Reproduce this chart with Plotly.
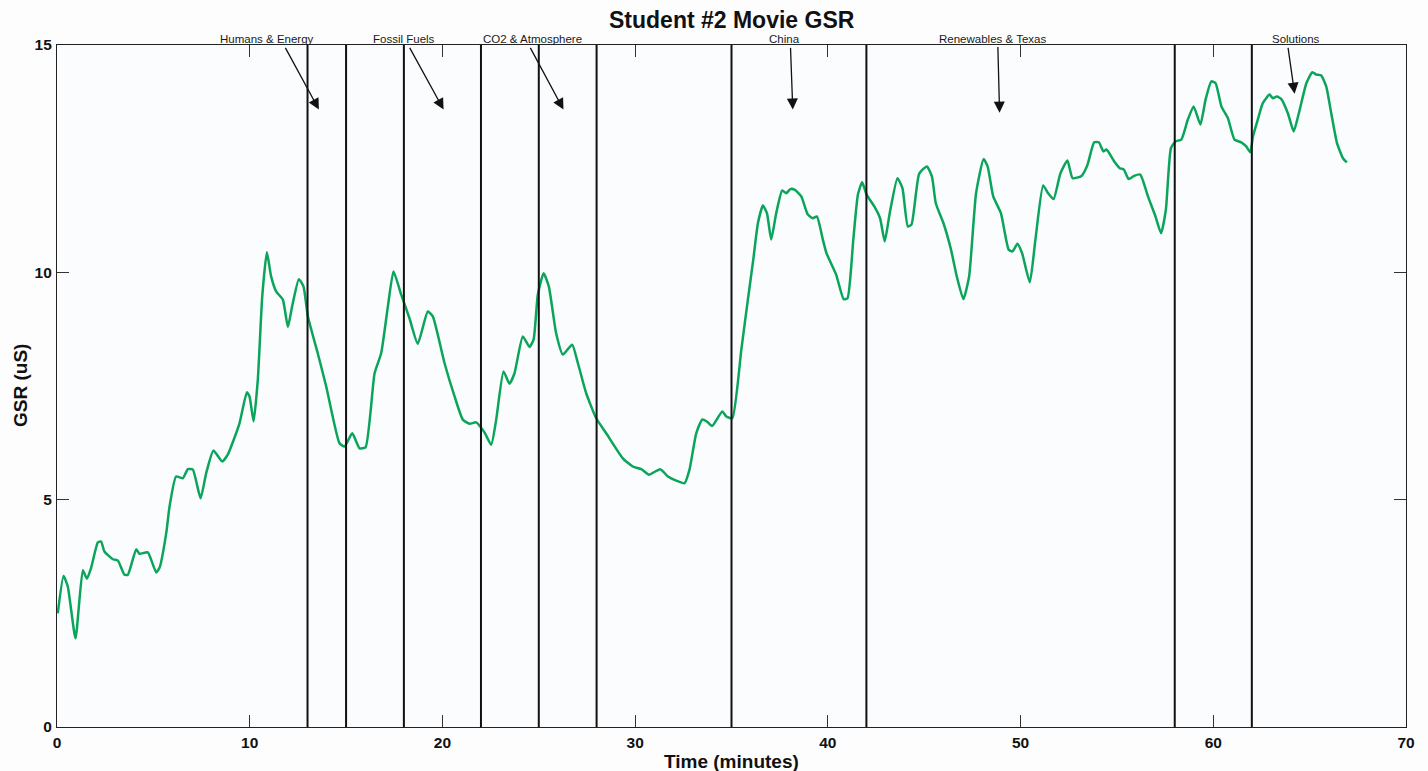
import plotly.graph_objects as go

# GSR trace (time in minutes, conductance in microsiemens)
time_min = [
    0.04, 0.34, 0.56, 0.96, 1.34, 1.55, 1.77, 2.12, 2.29, 2.46, 2.90, 3.16, 3.50, 3.68,
    4.11, 4.28, 4.71, 5.15, 5.32, 5.67, 5.84, 6.18, 6.53, 6.79, 7.05, 7.45, 7.74, 8.12,
    8.57, 8.86, 9.47, 9.85, 9.99, 10.20, 10.42, 10.65, 10.89, 11.11, 11.37, 11.72, 11.98,
    12.20, 12.55, 12.79, 13.02, 13.53, 13.97, 14.66, 14.92, 15.32, 15.70, 16.01, 16.48,
    16.82, 17.17, 17.46, 17.86, 18.29, 18.72, 19.24, 19.50, 20.11, 20.63, 21.06, 21.41,
    21.75, 22.18, 22.53, 22.79, 23.17, 23.48, 23.74, 24.17, 24.52, 24.73, 24.95, 25.25,
    25.52, 25.90, 26.25, 26.73, 27.03, 27.46, 27.98, 28.50, 29.36, 29.88, 30.32, 30.71,
    31.30, 31.70, 32.13, 32.56, 32.82, 33.17, 33.48, 33.72, 34.00, 34.52, 34.73, 35.04,
    35.51, 35.85, 36.13, 36.37, 36.63, 36.84, 37.06, 37.32, 37.63, 37.84, 38.05, 38.27,
    38.62, 38.96, 39.22, 39.43, 39.74, 39.93, 40.43, 40.82, 41.02, 41.32, 41.56, 41.78,
    42.01, 42.41, 42.71, 42.95, 43.21, 43.61, 43.87, 44.15, 44.34, 44.74, 45.14, 45.40,
    45.60, 46.00, 46.39, 46.69, 47.03, 47.33, 47.69, 48.08, 48.29, 48.58, 48.98, 49.38,
    49.58, 49.84, 50.08, 50.48, 50.77, 51.17, 51.43, 51.71, 52.07, 52.43, 52.70, 53.16,
    53.46, 53.82, 54.06, 54.30, 54.46, 54.86, 55.15, 55.36, 55.61, 55.89, 56.21, 56.61,
    57.00, 57.29, 57.54, 57.80, 58.04, 58.34, 58.68, 58.98, 59.33, 59.60, 59.90, 60.12,
    60.42, 60.76, 61.10, 61.45, 61.71, 61.92, 62.06, 62.31, 62.57, 62.92, 63.09, 63.30,
    63.53, 63.87, 64.17, 64.44, 64.83, 65.14, 65.34, 65.60, 65.86, 66.12, 66.42, 66.73,
    66.93,
]
gsr_us = [
    2.50, 3.32, 3.09, 1.95, 3.45, 3.26, 3.50, 4.06, 4.08, 3.86, 3.69, 3.66, 3.35, 3.35,
    3.91, 3.81, 3.84, 3.40, 3.50, 4.27, 4.85, 5.51, 5.47, 5.67, 5.66, 5.03, 5.58, 6.08,
    5.84, 5.99, 6.68, 7.36, 7.27, 6.72, 7.64, 9.47, 10.44, 9.91, 9.58, 9.40, 8.80,
    9.25, 9.85, 9.69, 9.03, 8.22, 7.49, 6.24, 6.17, 6.46, 6.13, 6.15, 7.78,
    8.22, 9.25, 10.02, 9.51, 8.99, 8.43, 9.14, 9.03, 8.00, 7.27, 6.76, 6.67,
    6.70, 6.48, 6.21, 6.76, 7.82, 7.55, 7.78, 8.59, 8.36, 8.52, 9.51, 9.98,
    9.69, 8.66, 8.19, 8.41, 8.00, 7.34, 6.79, 6.46, 5.91, 5.73, 5.67, 5.55,
    5.67, 5.51, 5.42, 5.36, 5.66, 6.46, 6.76, 6.72, 6.62, 6.94, 6.83, 6.79,
    8.30, 9.40, 10.28, 11.08, 11.47, 11.30, 10.72, 11.30, 11.80, 11.74, 11.83, 11.82,
    11.67, 11.27, 11.19, 11.23, 10.72, 10.42, 9.95, 9.41, 9.43, 10.72, 11.71, 11.98,
    11.71, 11.45, 11.19, 10.68, 11.30, 12.07, 11.85, 11.01, 11.05, 12.17, 12.33, 12.11,
    11.52, 11.08, 10.50, 9.91, 9.41, 9.91, 11.74, 12.49, 12.33, 11.67, 11.30, 10.50,
    10.46, 10.63, 10.42, 9.78, 10.72, 11.91, 11.74, 11.61, 12.18, 12.46, 12.07, 12.12,
    12.35, 12.86, 12.86, 12.66, 12.70, 12.44, 12.29, 12.26, 12.05, 12.12, 12.15, 11.67,
    11.23, 10.86, 11.38, 12.73, 12.88, 12.92, 13.36, 13.65, 13.25, 13.80, 14.20, 14.16,
    13.65, 13.39, 12.92, 12.86, 12.77, 12.64, 12.99, 13.36, 13.72, 13.91, 13.83, 13.87,
    13.81, 13.50, 13.10, 13.50, 14.16, 14.40, 14.35, 14.33, 14.09, 13.50, 12.84, 12.51,
    12.42,
]

# Segment boundaries of the movie (minutes)
boundaries = [13, 15, 18, 22, 25, 28, 35, 42, 58, 62]

# Topic labels: label centre, arrow tail and arrow head (minutes, uS)
topics = ["Humans & Energy", "Fossil Fuels", "CO2 & Atmosphere", "China",
          "Renewables & Texas", "Solutions"]
topic_label_x = [10.9, 18.03, 24.68, 37.75, 48.53, 64.27]
arrow_tail_x = [11.81, 18.26, 24.52, 38.06, 48.82, 63.87]
arrow_tail_y = [14.97, 14.97, 14.97, 14.97, 14.99, 14.97]
arrow_head_x = [13.59, 20.06, 26.28, 38.18, 48.91, 64.22]
arrow_head_y = [13.58, 13.58, 13.58, 13.58, 13.51, 13.93]

x_ticks = [0, 10, 20, 30, 40, 50, 60, 70]
y_ticks = [0, 5, 10, 15]

FONT = "Liberation Sans, Arial, sans-serif"

fig = go.Figure()
fig.add_trace(go.Scatter(
    x=time_min, y=gsr_us, mode="lines",
    line=dict(color="#0aa45a", width=2.5, shape="spline", smoothing=0.5),
    hoverinfo="x+y", showlegend=False,
))

for b in boundaries:
    fig.add_shape(type="line", xref="x", yref="y", x0=b, x1=b, y0=0, y1=15,
                  line=dict(color="#111111", width=2))

annotations = []
for name, lx in zip(topics, topic_label_x):
    annotations.append(dict(
        x=lx, y=1, xref="x", yref="paper", yshift=6, text=name, showarrow=False,
        font=dict(family=FONT, size=11.5, color="#1a1a1a"),
        xanchor="center", yanchor="middle",
    ))
for tx, ty, hx, hy in zip(arrow_tail_x, arrow_tail_y, arrow_head_x, arrow_head_y):
    annotations.append(dict(
        x=hx, y=hy, ax=tx, ay=ty, xref="x", yref="y", axref="x", ayref="y",
        text="", showarrow=True, arrowhead=2, arrowsize=1.7, arrowwidth=1.3,
        arrowcolor="#111111", standoff=0, startstandoff=0,
    ))
annotations.append(dict(
    x=0.5, y=1, xref="paper", yref="paper", yshift=25, text="Student #2 Movie GSR",
    showarrow=False, font=dict(family=FONT, size=23, color="#111111", weight="bold"),
    xanchor="center", yanchor="middle",
))
annotations.append(dict(
    x=0.5, y=0, xref="paper", yref="paper", yshift=-34, text="Time (minutes)",
    showarrow=False, font=dict(family=FONT, size=19, color="#111111", weight="bold"),
    xanchor="center", yanchor="middle",
))
annotations.append(dict(
    x=0, y=0.5, xref="paper", yref="paper", xshift=-37, text="GSR (uS)", textangle=-90,
    showarrow=False, font=dict(family=FONT, size=19, color="#111111", weight="bold"),
    xanchor="center", yanchor="middle",
))

axis_common = dict(
    showgrid=False, zeroline=False, showline=True, linecolor="#222222", linewidth=1.2,
    mirror="allticks", ticks="inside", ticklen=12, tickwidth=1, tickcolor="#333333",
    tickfont=dict(family=FONT, size=15.5, color="#111111", weight="bold"),
)

fig.update_layout(
    width=1428, height=771,
    margin=dict(l=57, r=22, t=45, b=44),
    paper_bgcolor="#fdfdfd", plot_bgcolor="#fbfcfe",
    annotations=annotations,
    xaxis=dict(range=[0, 70], tickvals=x_ticks, ticktext=[str(v) for v in x_ticks],
               ticklabelstandoff=1, **axis_common),
    yaxis=dict(range=[0, 15], tickvals=y_ticks, ticktext=[str(v) for v in y_ticks],
               ticklabelstandoff=1, **axis_common),
)

fig.write_html("out.html")
